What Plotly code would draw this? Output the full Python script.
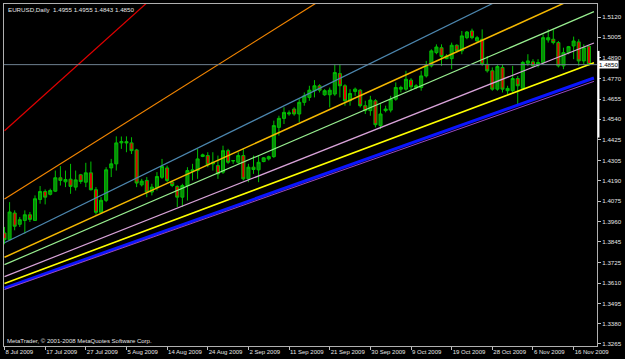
import plotly.graph_objects as go

# ---------------- data ----------------
bars = list(range(116))
opens = [1.3895,1.3857,1.4008,1.3944,1.3966,1.3998,1.3966,1.4085,1.4130,1.4114,
         1.4132,1.4208,1.4185,1.4200,1.4155,1.4225,1.4183,1.4236,1.4140,1.4012,
         1.4080,1.4264,1.4287,1.4406,1.4413,1.4406,1.4366,1.4168,1.4193,1.4127,
         1.4151,1.4211,1.4264,1.4183,1.4159,1.4098,1.4164,1.4243,1.4249,1.4329,
         1.4334,1.4287,1.4277,1.4240,1.4362,1.4306,1.4296,1.4334,1.4202,1.4268,
         1.4253,1.4300,1.4315,1.4328,1.4494,1.4545,1.4570,1.4598,1.4570,1.4636,
         1.4664,1.4702,1.4730,1.4679,1.4679,1.4683,1.4799,1.4730,1.4645,1.4698,
         1.4705,1.4617,1.4589,1.4645,1.4504,1.4589,1.4592,1.4654,1.4711,1.4711,
         1.4762,1.4720,1.4720,1.4786,1.4843,1.4918,1.4946,1.4884,1.4884,1.4960,
         1.4928,1.5003,1.5041,1.4985,1.4994,1.4852,1.4815,1.4711,1.4834,1.4702,
         1.4702,1.4771,1.4715,1.4858,1.4866,1.4847,1.4862,1.4990,1.4994,1.4975,
         1.4843,1.4918,1.4956,1.4979,1.4871,1.4955]
highs = [1.3929,1.4070,1.4023,1.3985,1.4023,1.4014,1.4108,1.4161,1.4142,1.4146,
         1.4249,1.4274,1.4249,1.4287,1.4249,1.4230,1.4293,1.4300,1.4155,1.4098,
         1.4268,1.4315,1.4443,1.4442,1.4443,1.4438,1.4372,1.4202,1.4212,1.4174,
         1.4240,1.4315,1.4277,1.4193,1.4165,1.4174,1.4268,1.4287,1.4372,1.4345,
         1.4353,1.4353,1.4334,1.4390,1.4372,1.4306,1.4353,1.4372,1.4287,1.4334,
         1.4334,1.4325,1.4334,1.4532,1.4560,1.4608,1.4590,1.4608,1.4654,1.4692,
         1.4730,1.4762,1.4739,1.4711,1.4720,1.4852,1.4852,1.4739,1.4711,1.4720,
         1.4711,1.4645,1.4673,1.4654,1.4626,1.4617,1.4673,1.4749,1.4730,1.4815,
         1.4773,1.4739,1.4815,1.4871,1.4937,1.4965,1.4965,1.4909,1.4975,1.4965,
         1.5041,1.5041,1.5054,1.5013,1.5050,1.4899,1.4834,1.4851,1.4852,1.4730,
         1.4843,1.4786,1.4871,1.4909,1.4881,1.4881,1.5022,1.5050,1.5050,1.4984,
         1.4946,1.4956,1.5009,1.4994,1.4965,1.4955]
lows = [1.3831,1.3853,1.3910,1.3929,1.3891,1.3957,1.3963,1.4061,1.4057,1.4108,
        1.4127,1.4164,1.4155,1.4117,1.4136,1.4174,1.4155,1.4136,1.3999,1.4004,
        1.4070,1.4212,1.4249,1.4372,1.4353,1.4343,1.4155,1.4159,1.4098,1.4108,
        1.4136,1.4202,1.4183,1.4155,1.4042,1.4042,1.4079,1.4193,1.4202,1.4325,
        1.4268,1.4249,1.4202,1.4230,1.4287,1.4287,1.4287,1.4193,1.4183,1.4230,
        1.4183,1.4296,1.4306,1.4321,1.4447,1.4513,1.4560,1.4560,1.4523,1.4617,
        1.4645,1.4664,1.4692,1.4673,1.4607,1.4673,1.4664,1.4617,1.4617,1.4673,
        1.4607,1.4570,1.4560,1.4494,1.4485,1.4579,1.4579,1.4645,1.4692,1.4702,
        1.4702,1.4711,1.4702,1.4777,1.4834,1.4909,1.4843,1.4881,1.4824,1.4918,
        1.4909,1.4994,1.4994,1.4975,1.4843,1.4805,1.4702,1.4702,1.4692,1.4683,
        1.4692,1.4626,1.4707,1.4843,1.4834,1.4834,1.4852,1.4975,1.4965,1.4834,
        1.4824,1.4909,1.4881,1.4843,1.4852,1.4843]
closes = [1.3857,1.4014,1.3933,1.3970,1.3998,1.3972,1.4089,1.4130,1.4098,1.4136,
          1.4208,1.4193,1.4198,1.4159,1.4196,1.4187,1.4236,1.4140,1.4012,1.4080,
          1.4253,1.4287,1.4406,1.4413,1.4406,1.4362,1.4178,1.4189,1.4127,1.4155,
          1.4215,1.4272,1.4193,1.4164,1.4098,1.4164,1.4249,1.4253,1.4315,1.4338,
          1.4281,1.4296,1.4230,1.4362,1.4296,1.4304,1.4334,1.4202,1.4268,1.4255,
          1.4296,1.4321,1.4328,1.4504,1.4545,1.4579,1.4576,1.4570,1.4636,1.4673,
          1.4705,1.4730,1.4705,1.4702,1.4705,1.4805,1.4730,1.4645,1.4686,1.4711,
          1.4617,1.4589,1.4649,1.4509,1.4570,1.4598,1.4654,1.4720,1.4720,1.4767,
          1.4724,1.4730,1.4786,1.4843,1.4928,1.4950,1.4896,1.4899,1.4960,1.4928,
          1.5013,1.5035,1.5003,1.5003,1.4852,1.4815,1.4711,1.4839,1.4711,1.4715,
          1.4771,1.4730,1.4862,1.4871,1.4843,1.4862,1.5003,1.5003,1.4975,1.4843,
          1.4918,1.4952,1.4984,1.4871,1.4946,1.4850]

tick_bars = [0, 8, 16, 24, 32, 40, 48, 56, 64, 72, 80, 88, 96, 104, 112]
tick_labels = ["8 Jul 2009", "17 Jul 2009", "27 Jul 2009", "5 Aug 2009", "14 Aug 2009",
               "24 Aug 2009", "2 Sep 2009", "11 Sep 2009", "21 Sep 2009", "30 Sep 2009",
               "9 Oct 2009", "19 Oct 2009", "28 Oct 2009", "6 Nov 2009", "16 Nov 2009"]
price_ticks = [1.5120, 1.5005, 1.4890, 1.4770, 1.4655, 1.4540, 1.4425, 1.4305, 1.4190,
               1.4075, 1.3960, 1.3845, 1.3725, 1.3610, 1.3495, 1.3380, 1.3265]

# trend lines: price at bar 0 and at bar 116
line_bars = [0, 116]
line_names = ["red", "orange", "steel", "gold", "lightgreen", "plum", "yellow", "blue", "purple"]
line_start = [1.4475, 1.4087, 1.3839, 1.3757, 1.3715, 1.3647, 1.3608, 1.3582, 1.3574]
line_end = [1.7479, 1.6191, 1.5479, 1.5276, 1.5151, 1.4973, 1.4861, 1.4774, 1.4755]

# ---------------- styles ----------------
line_colors = {"red": "#E00000", "orange": "#F28500", "steel": "#4C86AE", "gold": "#F5B800",
               "lightgreen": "#98EE90", "plum": "#D8A2D8", "yellow": "#FFFF00",
               "blue": "#0A14FF", "purple": "#9A48C0"}
line_widths = {"red": 1.2, "orange": 1.2, "steel": 1.2, "gold": 1.5, "lightgreen": 1.2,
               "plum": 1.2, "yellow": 1.6, "blue": 3, "purple": 1}

fig = go.Figure()
for name, s, e in zip(line_names, line_start, line_end):
    fig.add_trace(go.Scatter(x=line_bars, y=[s, e], mode="lines",
                             line=dict(color=line_colors[name], width=line_widths[name]),
                             hoverinfo="skip", showlegend=False))

fig.add_trace(go.Candlestick(
    x=bars, open=opens, high=highs, low=lows, close=closes,
    increasing=dict(line=dict(color="#00C000", width=1), fillcolor="#0A8A0A"),
    decreasing=dict(line=dict(color="#00C000", width=1), fillcolor="#E00000"),
    whiskerwidth=0, showlegend=False, hoverinfo="skip"))

last_o, last_h, last_l, last_c = opens[-1], highs[-1], lows[-1], closes[-1]

fig.add_shape(type="line", xref="paper", x0=0, x1=1, yref="y", y0=last_c, y1=last_c,
              line=dict(color="#6E8090", width=1))
fig.add_shape(type="line", xref="paper", x0=1.0025, x1=1.0025, yref="y", y0=1.4436, y1=1.4928,
              line=dict(color="#FFFFFF", width=2))

txt = "#E6E6E6"
fig.add_annotation(xref="paper", yref="paper", x=0, y=1, xanchor="left", yanchor="top",
                   xshift=2, yshift=0, showarrow=False,
                   text=f"EURUSD,Daily  {last_o:.4f} {last_h:.4f} {last_l:.4f} {last_c:.4f}",
                   font=dict(family="Liberation Sans", size=6.2, color=txt))
fig.add_annotation(xref="paper", yref="paper", x=0, y=0, xanchor="left", yanchor="bottom",
                   xshift=1, yshift=0, showarrow=False,
                   text="MetaTrader, © 2001-2008 MetaQuotes Software Corp.",
                   font=dict(family="Liberation Sans", size=6, color=txt))
fig.add_annotation(xref="paper", yref="y", x=1, y=last_c, xanchor="left", yanchor="middle",
                   xshift=1, showarrow=False, text=f"{last_c:.4f}", bgcolor="#FFFFFF",
                   borderpad=0, font=dict(family="Liberation Sans", size=6.2, color="#000000"))

fig.update_layout(
    width=625, height=359,
    margin=dict(l=3, r=27, t=3, b=13),
    paper_bgcolor="#000000", plot_bgcolor="#000000",
    showlegend=False, boxgap=0.15, boxgroupgap=0.3,
    xaxis=dict(range=[-0.1, 116.6], showgrid=False, zeroline=False,
               tickmode="array", tickvals=tick_bars, ticktext=tick_labels,
               ticks="outside", ticklen=3, tickcolor="#C0C0C0", tickangle=0,
               ticklabelposition="outside right",
               showline=True, linecolor="#B0B0B0", linewidth=1, mirror=True,
               tickfont=dict(family="Liberation Sans", size=6, color=txt),
               rangeslider=dict(visible=False), fixedrange=True),
    yaxis=dict(range=[1.32535, 1.5194], side="right", showgrid=False, zeroline=False,
               tickmode="array", tickvals=price_ticks,
               ticktext=[f"{v:.4f}" for v in price_ticks],
               ticks="outside", ticklen=3, tickcolor="#C0C0C0",
               showline=True, linecolor="#B0B0B0", linewidth=1, mirror=True,
               tickfont=dict(family="Liberation Sans", size=6.2, color=txt),
               fixedrange=True),
)

fig.write_html("out.html")
